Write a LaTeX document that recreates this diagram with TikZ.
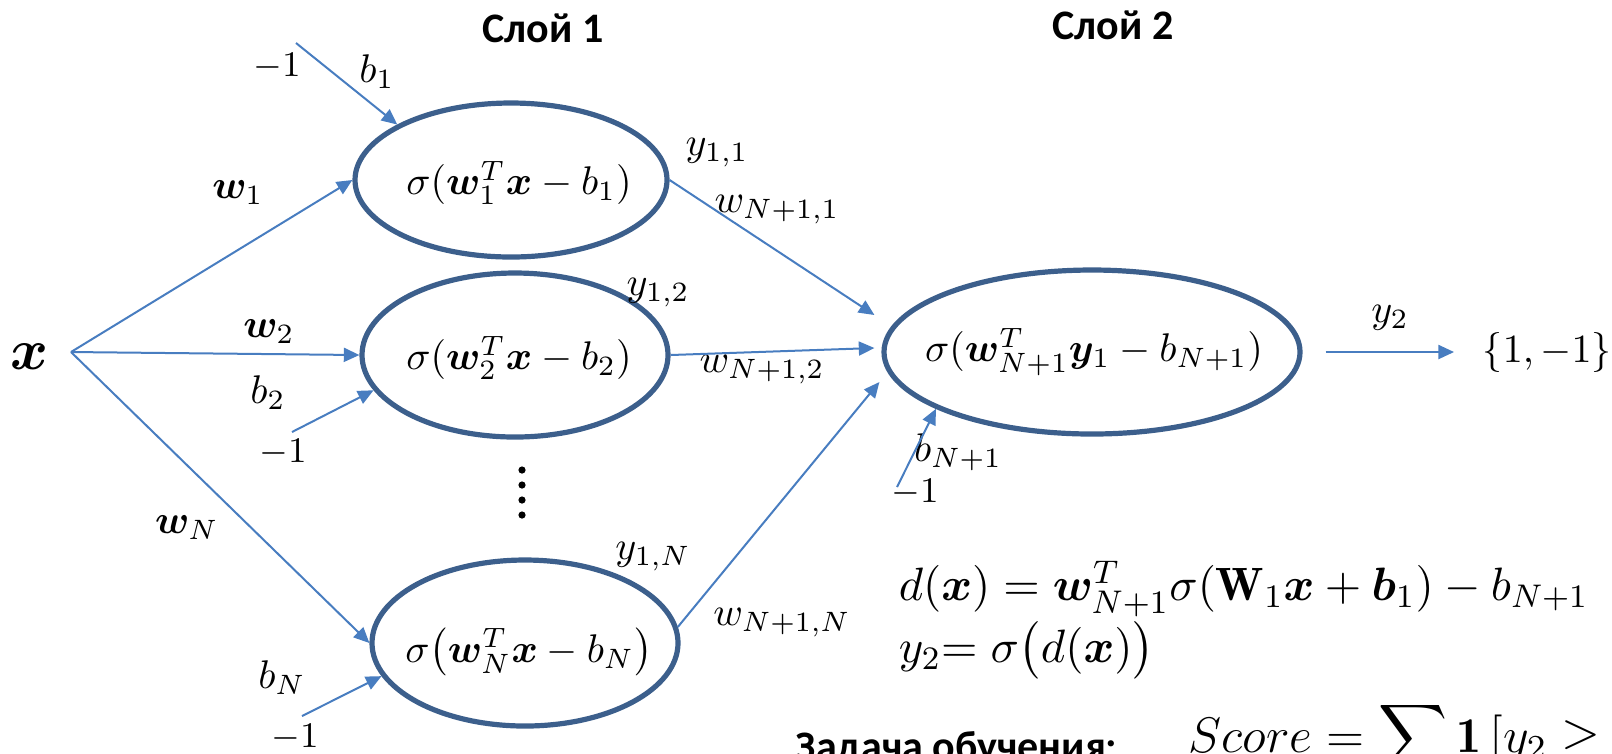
\RequirePackage{fix-cm}
\documentclass[tikz,border=0pt]{standalone}
\usepackage{amsmath,bm}
\usepackage{fontspec}
\newfontfamily\carlito{Carlito}
\usetikzlibrary{shapes.geometric,arrows.meta,calc}
\definecolor{nborder}{RGB}{60,95,140}
\definecolor{arr}{RGB}{72,125,192}
\begin{document}
\begin{tikzpicture}[x=0.25pt,y=-0.25pt,
  neuron/.style={draw=nborder,line width=1.3pt,ellipse,inner sep=0pt},
  conn/.style={draw=arr,line width=0.5pt,-{Triangle[length=3.9pt,width=3.5pt]}},
  lab/.style={inner sep=0pt,font=\fontsize{10}{12}\selectfont},
  small/.style={inner sep=0pt,font=\fontsize{9}{11}\selectfont},
  intext/.style={inner sep=0pt,font=\fontsize{10}{12}\selectfont},
  title/.style={inner sep=0pt,font=\carlito\bfseries\fontsize{10.5}{12}\selectfont},
  eq/.style={inner sep=0pt,anchor=base west,font=\fontsize{11.7}{14}\selectfont}]
\useasboundingbox (0,0) rectangle (1612,753);
\clip (0,0) rectangle (1612,753);

% titles
\node[title] (L1) at (543,28) {Слой 1};
\node[title] (L2) at (1113,25) {Слой 2};

% neurons
\node[neuron,minimum width=78pt,minimum height=38.5pt] (e1) at (511,180) {};
\node[neuron,minimum width=76.5pt,minimum height=41pt] (e2) at (515,355) {};
\node[neuron,minimum width=76.5pt,minimum height=41.5pt] (eN) at (525,643) {};
\node[neuron,minimum width=104pt,minimum height=41pt] (e3) at (1092,352) {};

\node[intext] (t1) at (519,183) {$\sigma(\boldsymbol{w}_1^T\boldsymbol{x}-b_1)$};
\node[intext] (t2) at (519,358) {$\sigma(\boldsymbol{w}_2^T\boldsymbol{x}-b_2)$};
\node[intext] (tN) at (529,652) {$\sigma\bigl(\boldsymbol{w}_N^T\boldsymbol{x}-b_N\bigr)$};
\node[intext] (t3) at (1094,352) {$\sigma(\boldsymbol{w}_{N+1}^T\boldsymbol{y}_1-b_{N+1})$};

% input
\node[inner sep=0pt,font=\fontsize{14.4}{16}\selectfont] (x) at (29,357) {$\boldsymbol{x}$};
\coordinate (xo) at (71,352);

% labels
\node[small] (m1) at (277,67) {$-1$};
\node[lab] (b1) at (377,72) {$b_1$};
\node[lab] (w1) at (238,193) {$\boldsymbol{w}_1$};
\node[lab] (w2) at (269,332) {$\boldsymbol{w}_2$};
\node[lab] (b2) at (268,393) {$b_2$};
\node[small] (m2) at (283,453) {$-1$};
\node[lab] (wN) at (187,528) {$\boldsymbol{w}_N$};
\node[lab] (bN) at (282,678) {$b_N$};
\node[small] (mN) at (295,738) {$-1$};
\node[lab] (y11) at (717,153) {$y_{1,1}$};
\node[lab] (wN11) at (777,210) {$w_{N+1,1}$};
\node[lab] (y12) at (658,293) {$y_{1,2}$};
\node[lab] (wN12) at (762,370) {$w_{N+1,2}$};
\node[lab] (y1N) at (653,557) {$y_{1,N}$};
\node[lab] (wN1N) at (782,623) {$w_{N+1,N}$};
\node[lab] (bN1) at (958,452) {$b_{N+1}$};
\node[small] (m3) at (915,493) {$-1$};
\node[lab] (y2) at (1390,318) {$y_2$};
\node[lab,anchor=west] (out) at (1482,352) {$\{1,-1\}$};

% vertical dots
\foreach \yy in {470,485,500,515} \fill (522,\yy) circle[radius=0.9pt];

% connectors
\draw[conn] (xo) -- (e1.west);
\draw[conn] (xo) -- (e2.west);
\draw[conn] (xo) -- (eN.west);
\coordinate (s1) at (296,43);
\coordinate (s2) at (292,432);
\coordinate (sN) at (302,716);
\coordinate (s3) at (897,487);
\draw[conn] (s1) -- (e1.154);
\draw[conn] (s2) -- (e2.194);
\draw[conn] (sN) -- (eN.193);
\coordinate (in1) at ($(e3.west)+(-7,-37)$);
\coordinate (in2) at ($(e3.west)+(-7,-4)$);
\coordinate (in3) at ($(e3.west)+(-2,30)$);
\draw[conn] (e1.east) -- (in1);
\draw[conn] (e2.east) -- (in2);
\draw[conn] (eN.6) -- (in3);
\draw[conn] (s3) -- (e3.200);
\draw[conn,shorten <=5.75pt,shorten >=7pt] (e3.east) -- (out.west);

% equations
\node[eq] (eq1) at (898,600) {$d(\boldsymbol{x}) = \boldsymbol{w}_{N+1}^T\sigma(\mathbf{W}_1\boldsymbol{x}+\boldsymbol{b}_1)-b_{N+1}$};
\node[eq] (eq2) at (898,662) {$y_2{=}\;\sigma\bigl(d(\boldsymbol{x})\bigr)$};
\node[title,anchor=base west] (task) at (795,760) {Задача обучения:};
\node[eq,font=\fontsize{12.5}{15}\selectfont] (score) at (1188,752) {$\displaystyle Score = \sum \mathbf{1}\,[y_2 \geq 0$};
\end{tikzpicture}
\end{document}
